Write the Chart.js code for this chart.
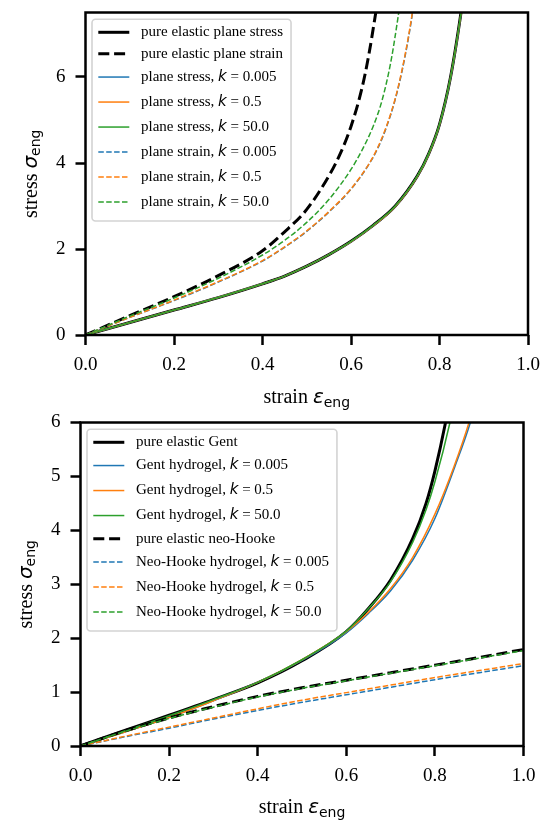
<!DOCTYPE html>
<html lang="en">
<head>
<meta charset="utf-8">
<title>Engineering stress–strain curves</title>
<script src="https://cdn.jsdelivr.net/npm/chart.js@4.4.1/dist/chart.umd.min.js"></script>
<style>
  html, body { margin: 0; padding: 0; background: #ffffff; }
  canvas { display: block; }
</style>
</head>
<body>
<canvas id="planeChart" width="546" height="410"></canvas>
<canvas id="gentChart" width="546" height="410"></canvas>
<script>
// ---------- upper panel: plane stress vs. plane strain ----------
const planeStressStrain = [0, 0.1, 0.2, 0.3, 0.4, 0.45, 0.5, 0.55, 0.6, 0.65, 0.7, 0.75, 0.775, 0.8, 0.825, 0.85, 0.86];
const pureElasticPlaneStress = [0, 0.29, 0.58, 0.87, 1.19, 1.37, 1.60, 1.87, 2.18, 2.55, 3.00, 3.70, 4.20, 4.90, 6.00, 7.60, 8.40];
const planeStressK0005 = [0, 0.29, 0.58, 0.87, 1.19, 1.37, 1.60, 1.87, 2.17, 2.54, 2.99, 3.69, 4.19, 4.88, 5.98, 7.57, 8.40];
const planeStressK05 = [0, 0.29, 0.58, 0.87, 1.19, 1.37, 1.60, 1.87, 2.17, 2.54, 2.99, 3.69, 4.19, 4.89, 5.99, 7.58, 8.40];
const planeStressK50 = [0, 0.29, 0.58, 0.87, 1.19, 1.37, 1.60, 1.87, 2.18, 2.55, 3.00, 3.70, 4.20, 4.90, 6.00, 7.59, 8.40];

const pureStrainX = [0, 0.1, 0.2, 0.3, 0.4, 0.45, 0.5, 0.55, 0.575, 0.6, 0.625, 0.64, 0.656, 0.665];
const pureElasticPlaneStrain = [0, 0.45, 0.89, 1.38, 1.96, 2.40, 2.92, 3.70, 4.20, 4.85, 5.75, 6.50, 7.50, 8.10];

const planeStrainLowKX = [0, 0.1, 0.2, 0.3, 0.4, 0.45, 0.5, 0.55, 0.6, 0.64, 0.66, 0.68, 0.7, 0.715, 0.73, 0.74, 0.745];
const planeStrainK0005 = [0, 0.41, 0.80, 1.23, 1.72, 2.04, 2.41, 2.86, 3.39, 3.96, 4.33, 4.83, 5.48, 6.12, 6.92, 7.57, 8.00];
const planeStrainK05 = [0, 0.41, 0.81, 1.24, 1.73, 2.05, 2.42, 2.87, 3.40, 3.97, 4.35, 4.85, 5.50, 6.15, 6.95, 7.60, 8.00];

const planeStrainHighKX = [0, 0.1, 0.2, 0.3, 0.4, 0.45, 0.5, 0.55, 0.6, 0.625, 0.65, 0.67, 0.69, 0.705, 0.712];
const planeStrainK50 = [0, 0.44, 0.86, 1.32, 1.86, 2.20, 2.62, 3.15, 3.85, 4.30, 4.85, 5.45, 6.35, 7.30, 7.80];

// ---------- lower panel: Gent vs. neo-Hooke hydrogels ----------
const gentPureX = [0, 0.1, 0.2, 0.3, 0.4, 0.5, 0.6, 0.65, 0.7, 0.75, 0.78, 0.8, 0.824, 0.835];
const gentPure = [0, 0.29, 0.57, 0.86, 1.17, 1.58, 2.12, 2.55, 3.08, 3.85, 4.50, 5.10, 6.00, 6.50];
const gentK50X = [0, 0.1, 0.2, 0.3, 0.4, 0.5, 0.6, 0.65, 0.7, 0.75, 0.78, 0.8, 0.834, 0.845];
const gentK50 = [0, 0.28, 0.56, 0.86, 1.18, 1.60, 2.13, 2.55, 3.05, 3.78, 4.38, 4.90, 6.00, 6.45];
const gentK05X = [0, 0.1, 0.2, 0.3, 0.4, 0.5, 0.6, 0.65, 0.7, 0.75, 0.8, 0.843, 0.877, 0.89];
const gentK05 = [0, 0.26, 0.53, 0.84, 1.18, 1.60, 2.12, 2.48, 2.92, 3.50, 4.30, 5.18, 6.00, 6.40];
const gentK0005X = [0, 0.1, 0.2, 0.3, 0.4, 0.5, 0.6, 0.65, 0.7, 0.75, 0.8, 0.845, 0.88, 0.893];
const gentK0005 = [0, 0.26, 0.53, 0.84, 1.18, 1.59, 2.10, 2.46, 2.88, 3.45, 4.22, 5.18, 6.00, 6.40];

const neoHookeX = [0, 0.1, 0.2, 0.3, 0.4, 0.5, 0.6, 0.7, 0.8, 0.9, 1.0];
const neoHookePure = [0, 0.28, 0.52, 0.73, 0.92, 1.08, 1.22, 1.36, 1.50, 1.64, 1.79];
const neoHookeK50 = [0, 0.27, 0.51, 0.72, 0.91, 1.07, 1.21, 1.35, 1.49, 1.63, 1.77];
const neoHookeK05 = [0, 0.18, 0.35, 0.52, 0.69, 0.85, 0.99, 1.13, 1.27, 1.40, 1.53];
const neoHookeK0005 = [0, 0.17, 0.33, 0.50, 0.66, 0.81, 0.95, 1.09, 1.23, 1.36, 1.49];

// ---------- axis ticks ----------
const strainTicks = [0, 0.2, 0.4, 0.6, 0.8, 1.0];
const planeStressTicks = [0, 2, 4, 6];
const gentStressTicks = [0, 1, 2, 3, 4, 5, 6];

// ---------- styling ----------
const BLUE = '#1f77b4', ORANGE = '#ff7f0e', GREEN = '#2ca02c', BLACK = '#000000';
const THICK_DASH = [11, 4.8], THIN_DASH = [5.5, 2.4];
const SERIF = '"Liberation Serif", "Times New Roman", serif';
const SANS = '"DejaVu Sans", sans-serif';

function series(label, xs, ys, color, width, dash) {
  return {
    label,
    data: xs.map((x, i) => ({ x, y: ys[i] })),
    borderColor: color,
    backgroundColor: color,
    borderWidth: width,
    borderDash: dash || [],
    borderCapStyle: 'butt',
    borderJoinStyle: 'round',
    pointRadius: 0,
    pointHoverRadius: 0,
    fill: false,
    cubicInterpolationMode: 'monotone',
    clip: { left: 0, top: 0, right: 0, bottom: 0 }
  };
}

// later entries are painted on top of earlier ones
function stacked(list) {
  list.forEach((d, i) => { d.order = -i; });
  return list;
}

const planeDatasets = stacked([
  series('pure elastic plane stress', planeStressStrain, pureElasticPlaneStress, BLACK, 3),
  series('pure elastic plane strain', pureStrainX, pureElasticPlaneStrain, BLACK, 3, THICK_DASH),
  series('plane stress, $k$ = 0.005', planeStressStrain, planeStressK0005, BLUE, 1.5),
  series('plane stress, $k$ = 0.5', planeStressStrain, planeStressK05, ORANGE, 1.5),
  series('plane stress, $k$ = 50.0', planeStressStrain, planeStressK50, GREEN, 1.5),
  series('plane strain, $k$ = 0.005', planeStrainLowKX, planeStrainK0005, BLUE, 1.5, THIN_DASH),
  series('plane strain, $k$ = 0.5', planeStrainLowKX, planeStrainK05, ORANGE, 1.5, THIN_DASH),
  series('plane strain, $k$ = 50.0', planeStrainHighKX, planeStrainK50, GREEN, 1.5, THIN_DASH)
]);

const gentDatasets = stacked([
  series('pure elastic Gent', gentPureX, gentPure, BLACK, 3),
  series('Gent hydrogel, $k$ = 0.005', gentK0005X, gentK0005, BLUE, 1.5),
  series('Gent hydrogel, $k$ = 0.5', gentK05X, gentK05, ORANGE, 1.5),
  series('Gent hydrogel, $k$ = 50.0', gentK50X, gentK50, GREEN, 1.5),
  series('pure elastic neo-Hooke', neoHookeX, neoHookePure, BLACK, 3, THICK_DASH),
  series('Neo-Hooke hydrogel, $k$ = 0.005', neoHookeX, neoHookeK0005, BLUE, 1.5, THIN_DASH),
  series('Neo-Hooke hydrogel, $k$ = 0.5', neoHookeX, neoHookeK05, ORANGE, 1.5, THIN_DASH),
  series('Neo-Hooke hydrogel, $k$ = 50.0', neoHookeX, neoHookeK50, GREEN, 1.5, THIN_DASH)
]);

// ---------- text helpers: serif text with italic sans math symbols ----------
function labelParts(label, size) {
  return label.split('$').map((t, i) => ({
    text: t,
    font: i % 2 ? `italic ${size}px ${SANS}` : `${size}px ${SERIF}`,
    dy: 0
  })).filter(p => p.text.length);
}

function partsWidth(ctx, parts) {
  let w = 0;
  for (const p of parts) { ctx.font = p.font; w += ctx.measureText(p.text).width; }
  return w;
}

function drawParts(ctx, parts, x, y, align) {
  let cx = align === 'center' ? x - partsWidth(ctx, parts) / 2 : x;
  ctx.textAlign = 'left';
  ctx.textBaseline = 'alphabetic';
  for (const p of parts) {
    ctx.font = p.font;
    ctx.fillText(p.text, cx, y + (p.dy || 0));
    cx += ctx.measureText(p.text).width;
  }
}

const strainTitle = [
  { text: 'strain ', font: `20px ${SERIF}` },
  { text: '\u03b5', font: `italic 20px ${SANS}` },
  { text: 'eng', font: `14px ${SANS}`, dy: 3.5 }
];
const stressTitle = [
  { text: 'stress ', font: `20px ${SERIF}` },
  { text: '\u03c3', font: `italic 20px ${SANS}` },
  { text: 'eng', font: `14px ${SANS}`, dy: 3.5 }
];

function roundRect(ctx, x, y, w, h, r) {
  ctx.beginPath();
  ctx.moveTo(x + r, y);
  ctx.arcTo(x + w, y, x + w, y + h, r);
  ctx.arcTo(x + w, y + h, x, y + h, r);
  ctx.arcTo(x, y + h, x, y, r);
  ctx.arcTo(x, y, x + w, y, r);
  ctx.closePath();
}

function drawLegend(chart, inset) {
  const { ctx, chartArea: a } = chart;
  const size = 15;
  const rows = chart.data.datasets.map(d => ({
    ds: d,
    parts: labelParts(d.label, size),
    h: d.label.includes('$') ? 20 : 16.5
  }));
  const left = a.left + inset.x, top = a.top + inset.y;
  const centers = [];
  let c = top + 13;
  rows.forEach((r, i) => {
    if (i > 0) c += (rows[i - 1].h + r.h) / 2 + 5;
    centers.push(c);
  });
  let maxW = 0;
  rows.forEach(r => { maxW = Math.max(maxW, partsWidth(ctx, r.parts)); });
  const width = 49 + maxW + 8;
  const height = centers[centers.length - 1] - top + 19;

  ctx.save();
  roundRect(ctx, left, top, width, height, 3.5);
  ctx.fillStyle = 'rgba(255,255,255,0.8)';
  ctx.fill();
  ctx.lineWidth = 1.6;
  ctx.strokeStyle = '#d3d3d3';
  ctx.stroke();

  rows.forEach((r, i) => {
    const y = centers[i];
    ctx.beginPath();
    ctx.strokeStyle = r.ds.borderColor;
    ctx.lineWidth = r.ds.borderWidth;
    ctx.lineCap = 'butt';
    ctx.setLineDash(r.ds.borderDash);
    ctx.moveTo(left + 6.3, y);
    ctx.lineTo(left + 37.3, y);
    ctx.stroke();
    ctx.setLineDash([]);
    ctx.fillStyle = '#000';
    drawParts(ctx, r.parts, left + 49, y + 3.8, 'left');
  });
  ctx.restore();
}

// frame, axis titles and in-axes legend
const panelDecor = {
  id: 'panelDecor',
  afterDraw(chart, args, opts) {
    const { ctx, chartArea: a } = chart;
    ctx.save();
    ctx.strokeStyle = '#000';
    ctx.lineWidth = 2.5;
    ctx.setLineDash([]);
    ctx.strokeRect(a.left, a.top, a.right - a.left, a.bottom - a.top);

    ctx.fillStyle = '#000';
    drawParts(ctx, strainTitle, (a.left + a.right) / 2, opts.xTitleBaseline, 'center');

    ctx.translate(a.left - opts.yTitleGap, (a.top + a.bottom) / 2);
    ctx.rotate(-Math.PI / 2);
    drawParts(ctx, stressTitle, 0, 0, 'center');
    ctx.restore();

    drawLegend(chart, opts.legendInset);
  }
};

// keep the plotting area fixed: no extra room for overhanging tick labels
function fixScaleBox(scale, prop, size) {
  scale[prop] = size;
  scale.paddingTop = 0;
  scale.paddingBottom = 0;
  scale.paddingLeft = 0;
  scale.paddingRight = 0;
}

function axisStyle(tickValues, fmt, fit, padding) {
  return {
    type: 'linear',
    min: tickValues[0],
    afterBuildTicks: s => { s.ticks = tickValues.map(v => ({ value: v })); },
    afterFit: fit,
    grid: {
      display: true, drawOnChartArea: false, drawTicks: true,
      tickLength: 10, tickWidth: 2.5, tickColor: '#000'
    },
    border: { display: false },
    ticks: {
      color: '#000', padding, autoSkip: false, maxRotation: 0,
      font: { family: SERIF, size: 19 },
      callback: fmt
    }
  };
}

function makeChart(id, datasets, layout) {
  const xAxis = axisStyle(strainTicks, v => v.toFixed(1), s => fixScaleBox(s, 'height', layout.xAxisHeight), 9);
  xAxis.max = 1;
  const yAxis = axisStyle(layout.yTicks, v => String(v), s => fixScaleBox(s, 'width', layout.yAxisWidth), 10);
  yAxis.max = layout.yMax;
  return new Chart(document.getElementById(id), {
    type: 'line',
    data: { datasets },
    options: {
      responsive: false,
      maintainAspectRatio: false,
      animation: false,
      devicePixelRatio: 1,
      events: [],
      layout: { padding: { left: 0, right: layout.padRight, top: layout.padTop, bottom: 0 } },
      plugins: {
        legend: { display: false },
        tooltip: { enabled: false },
        panelDecor: {
          xTitleBaseline: 403,
          yTitleGap: 49,
          legendInset: { x: 6.5, y: 6.8 }
        }
      },
      scales: { x: xAxis, y: yAxis }
    },
    plugins: [panelDecor]
  });
}

makeChart('planeChart', planeDatasets, {
  yTicks: planeStressTicks, yMax: 7.5,
  xAxisHeight: 75, yAxisWidth: 85.5, padRight: 18, padTop: 12.5
});

makeChart('gentChart', gentDatasets, {
  yTicks: gentStressTicks, yMax: 6,
  xAxisHeight: 74, yAxisWidth: 80.5, padRight: 22.5, padTop: 12.5
});
</script>
</body>
</html>
